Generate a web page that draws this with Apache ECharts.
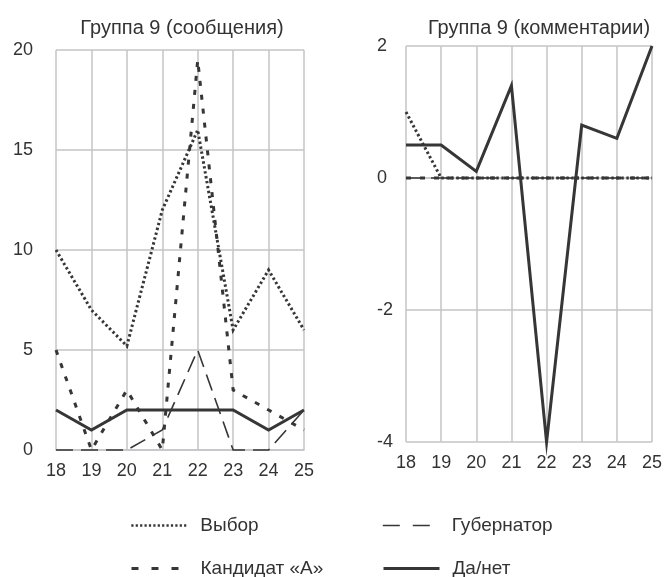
<!DOCTYPE html>
<html>
<head>
<meta charset="utf-8">
<script src="https://cdn.jsdelivr.net/npm/echarts@6/dist/echarts.min.js"></script>
<style>
html,body{margin:0;padding:0;background:#fff;}
#chart{width:665px;height:577px;}
</style>
</head>
<body>
<div id="chart"></div>
<script>
// ---- data ----
const categories = ['18','19','20','21','22','23','24','25'];
const titleLeft = 'Группа 9 (сообщения)';
const titleRight = 'Группа 9 (комментарии)';
const seriesNames = ['Выбор', 'Кандидат «А»', 'Губернатор', 'Да/нет'];

const leftVybor      = [10, 7, 5.2, 12, 16, 6, 9, 6];
const leftKandidat   = [5, 0, 3, 0, 19.5, 3, 2, 1];
const leftGubernator = [0, 0, 0, 1, 5, 0, 0, 2];
const leftDaNet      = [2, 1, 2, 2, 2, 2, 1, 2];

const rightVybor      = [1, 0, 0, 0, 0, 0, 0, 0];
const rightKandidat   = [0, 0, 0, 0, 0, 0, 0, 0];
const rightGubernator = [0, 0, 0, 0, 0, 0, 0, 0];
const rightDaNet      = [0.5, 0.5, 0.1, 1.4, -4, 0.8, 0.6, 2];

// ---- styles ----
const LINE = '#363636';
const GRID = '#c4c5c9';
const TEXT = '#333333';
const FONT = 'Liberation Sans, Arial, sans-serif';

const styles = {
  'Выбор':        {width: 3, type: [2.4, 2.6]},
  'Кандидат «А»': {width: 3, type: [5, 9]},
  'Губернатор':   {width: 1.6, type: [17, 8]},
  'Да/нет':       {width: 3, type: 'solid'}
};
const legendStyles = {
  'Выбор':        {width: 2.6, type: [2.2, 2.2]},
  'Кандидат «А»': {width: 3, type: [7, 13]},
  'Губернатор':   {width: 1.6, type: [17, 13]},
  'Да/нет':       {width: 3, type: 'solid'}
};

function mkSeries(name, data, idx, z) {
  const s = styles[name];
  return {
    name: name, type: 'line', xAxisIndex: idx, yAxisIndex: idx,
    data: data, symbol: 'none', showSymbol: false, clip: false, z: z,
    lineStyle: {color: LINE, width: s.width, type: s.type, cap: 'butt', join: 'miter', miterLimit: 30},
    itemStyle: {color: LINE},
    emphasis: {disabled: true}, animation: false
  };
}

function xAxis(idx) {
  return {
    type: 'category', gridIndex: idx, data: categories, boundaryGap: false,
    axisLine: {show: true, lineStyle: {color: GRID, width: 1.5}},
    axisTick: {show: false},
    splitLine: {show: true, lineStyle: {color: GRID, width: 1.5}},
    axisLabel: {color: TEXT, fontSize: 18, fontFamily: FONT, margin: 12, interval: 0}
  };
}

function mkLegend(name, left, top, w, pad) {
  const s = legendStyles[name];
  return {
    data: [name], orient: 'horizontal', left: left, top: top,
    itemWidth: w, itemHeight: 14, selectedMode: false,
    itemStyle: {opacity: 0, borderWidth: 0},
    lineStyle: {color: LINE, width: s.width, type: s.type, cap: 'butt'},
    textStyle: {color: TEXT, fontSize: 19, fontFamily: FONT, padding: [0, 0, 0, pad]}
  };
}

const chart = echarts.init(document.getElementById('chart'), null, {renderer: 'canvas'});
chart.setOption({
  backgroundColor: '#fff',
  animation: false,
  title: [
    {text: titleLeft, left: 177, top: 13, textAlign: 'center',
     textStyle: {color: TEXT, fontSize: 20, fontWeight: 'normal', fontFamily: FONT}},
    {text: titleRight, left: 534, top: 13, textAlign: 'center',
     textStyle: {color: TEXT, fontSize: 20, fontWeight: 'normal', fontFamily: FONT}}
  ],
  grid: [
    {left: 56, right: 361, top: 50, bottom: 127},
    {left: 406, right: 12, top: 46, bottom: 135}
  ],
  xAxis: [xAxis(0), xAxis(1)],
  yAxis: [
    {type: 'value', gridIndex: 0, min: 0, max: 20, interval: 5,
     axisLine: {show: false}, axisTick: {show: false},
     splitLine: {show: true, lineStyle: {color: GRID, width: 1.5}},
     axisLabel: {color: TEXT, fontSize: 18, fontFamily: FONT, margin: 23}},
    {type: 'value', gridIndex: 1, min: -4, max: 2, interval: 2,
     axisLine: {show: false}, axisTick: {show: false},
     splitLine: {show: true, lineStyle: {color: GRID, width: 1.5}},
     axisLabel: {color: TEXT, fontSize: 18, fontFamily: FONT, margin: 29, align: 'left'}}
  ],
  legend: [
    mkLegend(seriesNames[0], 125, 511, 57, 7),
    mkLegend(seriesNames[1], 125, 554, 47, 17),
    mkLegend(seriesNames[2], 377, 511, 47, 17),
    mkLegend(seriesNames[3], 377, 554, 56, 8)
  ],
  series: [
    mkSeries('Губернатор', leftGubernator, 0, 2),
    mkSeries('Кандидат «А»', leftKandidat, 0, 3),
    mkSeries('Выбор', leftVybor, 0, 4),
    mkSeries('Да/нет', leftDaNet, 0, 5),
    mkSeries('Выбор', rightVybor, 1, 2),
    mkSeries('Губернатор', rightGubernator, 1, 3),
    mkSeries('Кандидат «А»', rightKandidat, 1, 4),
    mkSeries('Да/нет', rightDaNet, 1, 5)
  ]
});
</script>
</body>
</html>
